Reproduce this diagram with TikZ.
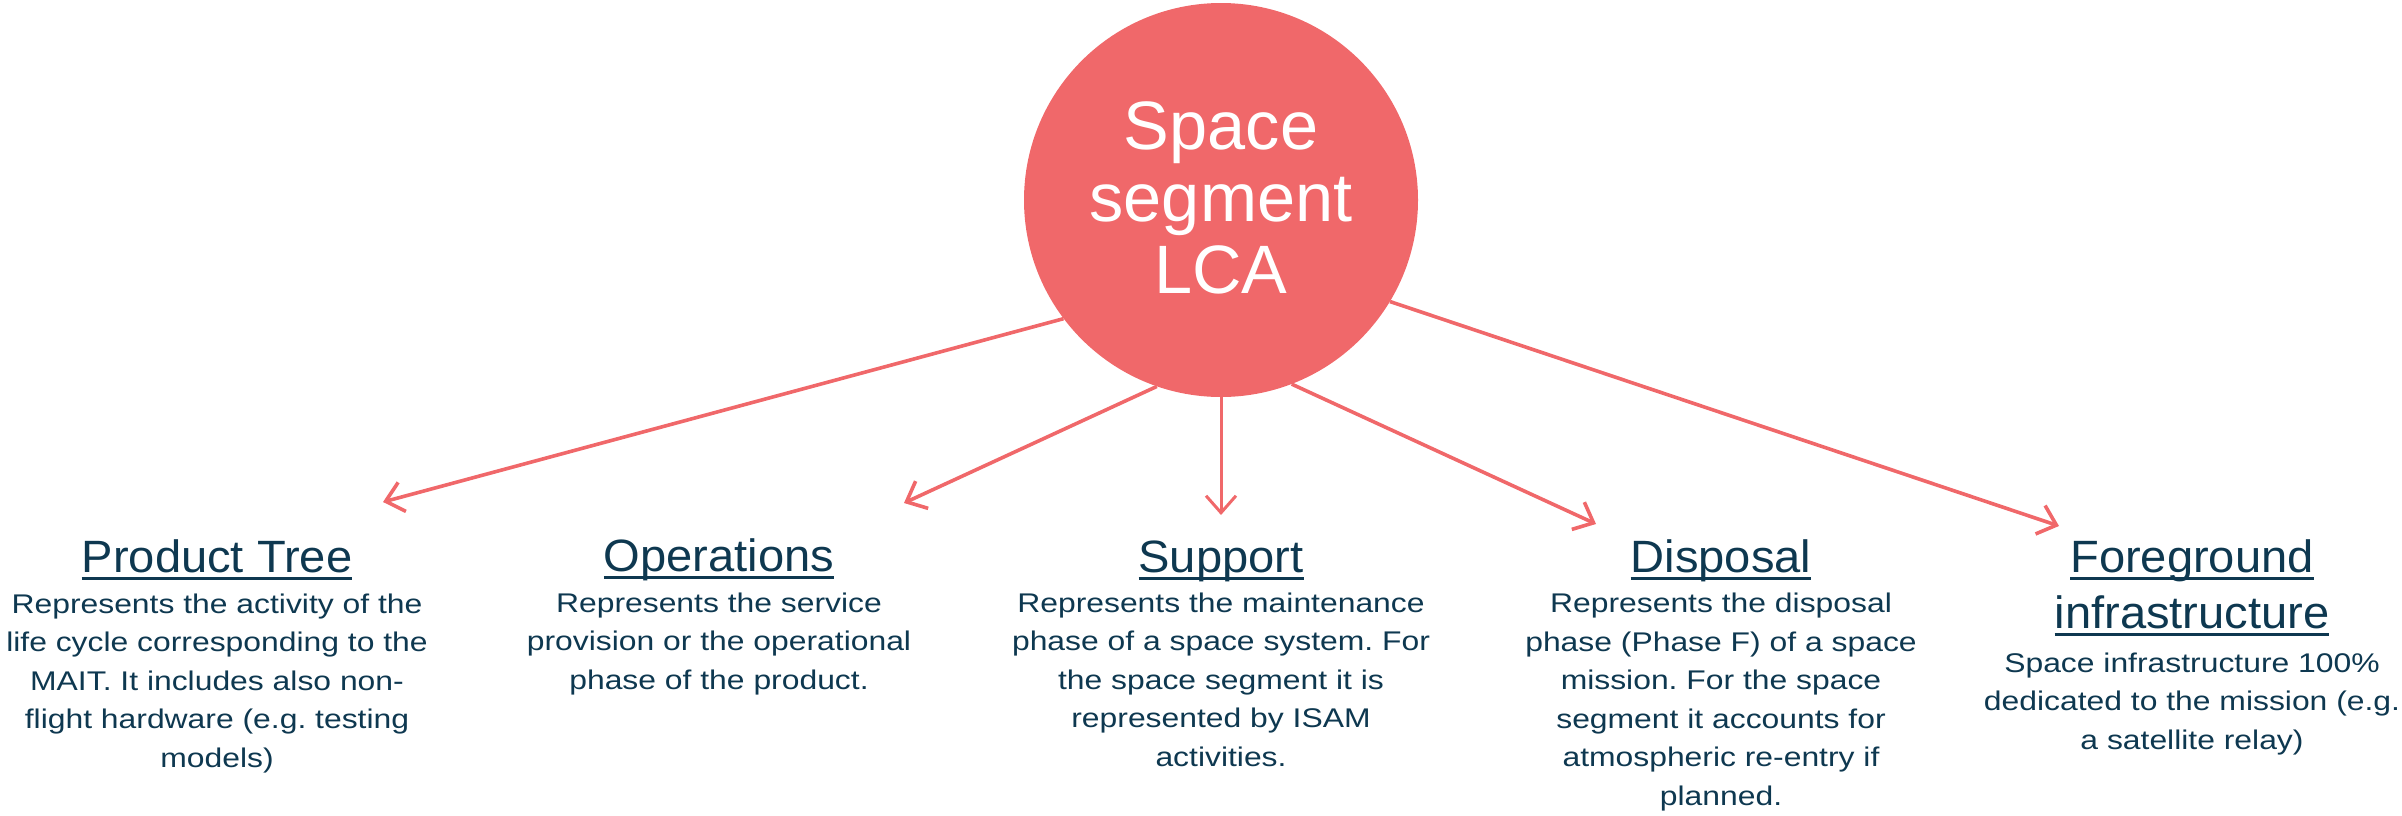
\documentclass[tikz,border=0pt]{standalone}
\usepackage{fontspec}
\setmainfont{Liberation Sans}
\newfontfamily\bodyfont[FakeStretch=1.18]{Liberation Sans}
\newfontfamily\titlefont[FakeStretch=1.04]{Liberation Sans}
\usetikzlibrary{arrows.meta}
\definecolor{coral}{RGB}{240,104,106}
\definecolor{navy}{RGB}{14,56,80}
\newsavebox\ulbox
\newcommand\ulin[1]{\sbox\ulbox{#1}\rlap{\rule[-7.6pt]{\wd\ulbox}{2.6pt}}\usebox\ulbox}
\frenchspacing
\begin{document}
\begin{tikzpicture}[x=1pt,y=-1pt,
  link/.style={draw=coral, line width=3.6pt, -{Straight Barb[length=17pt,width=30pt]}},
  title/.style={text=navy, font=\titlefont\fontsize{45.3}{56}\selectfont, anchor=base, align=center, inner sep=0pt},
  body/.style={text=navy, font=\bodyfont\frenchspacing\fontsize{27}{38.5}\selectfont, anchor=base, align=center, inner sep=0pt},
  hub/.style={circle, fill=coral, minimum size=394pt, inner sep=0pt},
  hubtext/.style={text=white, font=\fontsize{68.5}{72}\selectfont, align=center, anchor=base, inner sep=0pt}]
\useasboundingbox (0,0) rectangle (2402,815);
% multi-line nodes: base anchor = baseline of the last line
\node[hub] (c) at (1221,200) {};
\node[hubtext] (ct) at (1221,293) {Space\\segment\\LCA};

\coordinate (e1) at (383,502);
\coordinate (e2) at (904,503);
\coordinate (e3) at (1221,515);
\coordinate (e4) at (1596,524);
\coordinate (e5) at (2059,526);
\draw[link] (c.217.7) -- (e1);
\draw[link] (c.251) -- (e2);
\draw[link, line width=3pt] (c.270) -- (e3);
\draw[link] (c.291.2) -- (e4);
\draw[link] (c.329.4) -- (e5);

\node[title] (t1) at (217,572) {\ulin{Product Tree}};
\node[body] (b1) at (217,767) {Represents the activity of the\\life cycle corresponding to the\\MAIT. It includes also non-\\flight hardware (e.g. testing\\models)};

\node[title] (t2) at (719,571) {\ulin{Operations}};
\node[body] (b2) at (719,689) {Represents the service\\provision or the operational\\phase of the product.};

\node[title] (t3) at (1221,572) {\ulin{Support}};
\node[body] (b3) at (1221,766) {Represents the maintenance\\phase of a space system. For\\the space segment it is\\represented by ISAM\\activities.};

\node[title] (t4) at (1721,572) {\ulin{Disposal}};
\node[body] (b4) at (1721,805) {Represents the disposal\\phase (Phase F) of a space\\mission. For the space\\segment it accounts for\\atmospheric re-entry if\\planned.};

\node[title] (t5) at (2192,628) {\ulin{Foreground}\\\ulin{infrastructure}};
\node[body] (b5) at (2192,749) {Space infrastructure 100\%\\dedicated to the mission (e.g.\\a satellite relay)};
\end{tikzpicture}
\end{document}
